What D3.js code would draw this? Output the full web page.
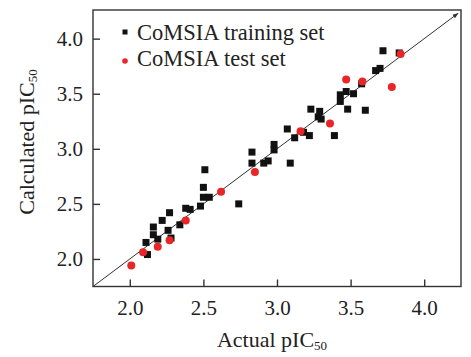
<!DOCTYPE html>
<html>
<head>
<meta charset="utf-8">
<script src="https://cdn.jsdelivr.net/npm/d3@7"></script>
<style>
  html, body { margin: 0; padding: 0; background: #fff; }
  svg { display: block; }
  text { font-family: "Liberation Serif", "Times New Roman", serif; fill: #222; }
</style>
</head>
<body>
<svg id="chart" width="471" height="357"></svg>
<script>
// ---- data ----
const trainActual = [2.12, 2.11, 2.16, 2.16, 2.19, 2.22, 2.26, 2.28, 2.27, 2.34, 2.38, 2.41, 2.48, 2.50, 2.54, 2.50, 2.51, 2.74, 2.83, 2.83, 2.91, 2.94, 2.98, 2.98, 3.09, 3.07, 3.12, 3.18, 3.22, 3.39, 3.23, 3.29, 3.28, 3.30, 3.43, 3.48, 3.60, 3.43, 3.47, 3.52, 3.575, 3.67, 3.70, 3.72, 3.83];
const trainCalc   = [2.04, 2.15, 2.29, 2.22, 2.18, 2.35, 2.26, 2.19, 2.42, 2.31, 2.46, 2.45, 2.48, 2.56, 2.56, 2.65, 2.81, 2.50, 2.87, 2.97, 2.87, 2.89, 2.99, 3.04, 2.87, 3.18, 3.10, 3.15, 3.12, 3.12, 3.36, 3.34, 3.29, 3.27, 3.43, 3.36, 3.35, 3.49, 3.52, 3.50, 3.59, 3.71, 3.73, 3.89, 3.87];
const testActual  = [2.01, 2.09, 2.19, 2.27, 2.38, 2.62, 2.85, 3.16, 3.36, 3.47, 3.58, 3.78, 3.84];
const testCalc    = [1.94, 2.06, 2.11, 2.17, 2.35, 2.61, 2.79, 3.16, 3.23, 3.63, 3.61, 3.56, 3.86];
const tickValues  = [2.0, 2.5, 3.0, 3.5, 4.0];
const legendLabels = ["CoMSIA training set", "CoMSIA test set"];
const axisDomainX = [1.75, 4.25];
const axisDomainY = [1.75, 4.26];
const lineEnd = 4.23;

// ---- layout ----
const serif = '"Liberation Serif", "Times New Roman", serif';
const svg = d3.select("#chart");
const mLeft = 93, mRight = 461, mTop = 10, mBottom = 286.5;
const x = d3.scaleLinear().domain(axisDomainX).range([mLeft, mRight]);
const y = d3.scaleLinear().domain(axisDomainY).range([mBottom, mTop]);
const frameColor = "#333";

// frame
svg.append("rect")
  .attr("x", mLeft).attr("y", mTop)
  .attr("width", mRight - mLeft).attr("height", mBottom - mTop)
  .attr("fill", "none").attr("stroke", frameColor).attr("stroke-width", 1.4);

// axes (ticks inside)
const xAxis = d3.axisBottom(x).tickValues(tickValues).tickSizeInner(-7).tickSizeOuter(0).tickPadding(14)
  .tickFormat(d3.format(".1f"));
const yAxis = d3.axisLeft(y).tickValues(tickValues).tickSizeInner(-7).tickSizeOuter(0).tickPadding(10)
  .tickFormat(d3.format(".1f"));

const gx = svg.append("g").attr("transform", `translate(0,${mBottom})`).call(xAxis);
const gy = svg.append("g").attr("transform", `translate(${mLeft},0)`).call(yAxis);
[gx, gy].forEach(g => {
  g.attr("font-family", serif).attr("font-size", 21);
  g.select(".domain").remove();
  g.selectAll(".tick line").attr("stroke", frameColor).attr("stroke-width", 1.4);
  g.selectAll(".tick text")
    .attr("font-family", serif)
    .style("font-family", serif)
    .style("font-size", "21px").attr("fill", "#222");
});
gx.selectAll(".tick text").attr("dy", "0.71em");

// diagonal with arrow
const defs = svg.append("defs");
defs.append("marker")
  .attr("id", "arrow").attr("viewBox", "0 0 10 10")
  .attr("refX", 9).attr("refY", 5)
  .attr("markerWidth", 6).attr("markerHeight", 6)
  .attr("orient", "auto")
  .append("path").attr("d", "M0,1.5 L10,5 L0,8.5 Z").attr("fill", "#333");

svg.append("line")
  .attr("x1", x(axisDomainX[0])).attr("y1", y(axisDomainX[0]))
  .attr("x2", x(lineEnd)).attr("y2", y(lineEnd))
  .attr("stroke", "#333").attr("stroke-width", 1)
  .attr("marker-end", "url(#arrow)");

// training squares
const sq = 7;
const train = trainActual.map((d, i) => ({ a: d, c: trainCalc[i] }));
svg.append("g").selectAll("rect").data(train).join("rect")
  .attr("x", d => x(d.a) - sq / 2).attr("y", d => y(d.c) - sq / 2)
  .attr("width", sq).attr("height", sq)
  .attr("fill", "#111");

// test circles
const test = testActual.map((d, i) => ({ a: d, c: testCalc[i] }));
svg.append("g").selectAll("circle").data(test).join("circle")
  .attr("cx", d => x(d.a)).attr("cy", d => y(d.c))
  .attr("r", 4).attr("fill", "#e8262a");

// legend
const lg = svg.append("g");
lg.append("rect").attr("x", 122.5).attr("y", 29.5).attr("width", 5).attr("height", 5).attr("fill", "#111");
lg.append("circle").attr("cx", 125).attr("cy", 61).attr("r", 2.8).attr("fill", "#e8262a");
lg.append("text").attr("x", 137).attr("y", 40).style("font-size", "22.5px").text(legendLabels[0]);
lg.append("text").attr("x", 137).attr("y", 66).style("font-size", "22.5px").text(legendLabels[1]);

// axis titles
const xt = svg.append("text").attr("x", 272).attr("y", 347)
  .attr("text-anchor", "middle").style("font-size", "22px");
xt.append("tspan").text("Actual pIC");
xt.append("tspan").attr("dy", 3).style("font-size", "13px").text("50");

const yt = svg.append("text")
  .attr("transform", "translate(34,142) rotate(-90)")
  .attr("text-anchor", "middle").style("font-size", "22px");
yt.append("tspan").text("Calculated pIC");
yt.append("tspan").attr("dy", 3).style("font-size", "13px").text("50");
</script>
</body>
</html>
